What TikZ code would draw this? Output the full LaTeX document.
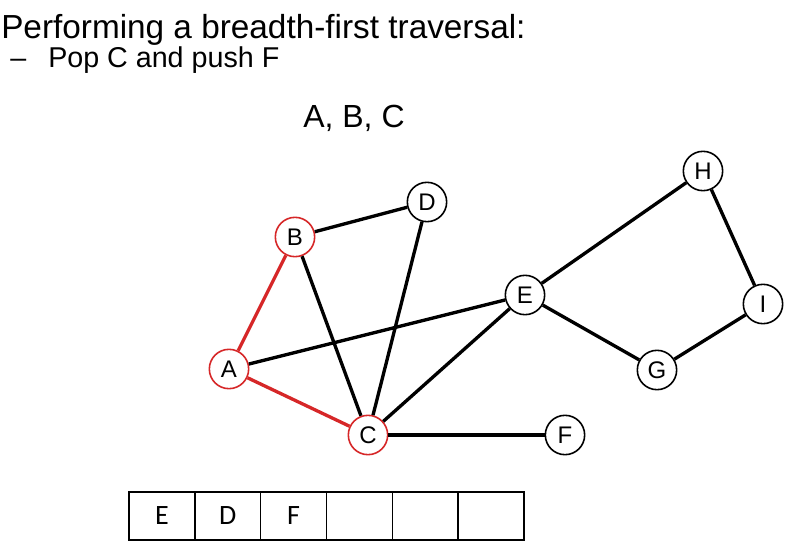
\documentclass[tikz,border=0pt]{standalone}
\usepackage{fontspec}
\setmainfont{Liberation Sans}
\newfontfamily\queuefont{Carlito}
\definecolor{visitred}{RGB}{214,39,40}
\tikzset{
  vertex/.style={circle, draw, line width=1.2pt, fill=white, minimum size=29.5pt, inner sep=0pt, font=\fontsize{18}{18}\selectfont},
  visited/.style={vertex, draw=visitred},
  edge/.style={line width=2.5pt},
  treeedge/.style={edge, draw=visitred},
  cell/.style={draw, line width=1pt, minimum width=49.4pt, minimum height=36pt, inner sep=0pt, font=\queuefont\fontsize{21}{21}\selectfont}
}

\begin{document}
\begin{tikzpicture}[x=0.75pt, y=-0.75pt]
\useasboundingbox (0,0) rectangle (797,553);
% text at the top
\node[anchor=base west, inner sep=0pt, font=\fontsize{25}{25}\selectfont] (title) at (1,38) {Performing a breadth-first traversal:};
\node[anchor=base west, inner sep=0pt, font=\fontsize{21.5}{21.5}\selectfont] (dash) at (10,67) {--};
\node[anchor=base west, inner sep=0pt, font=\fontsize{21.5}{21.5}\selectfont] (step) at (48,67) {Pop C and push F};
\node[anchor=base west, inner sep=0pt, font=\fontsize{24}{24}\selectfont] (seen) at (303,127) {A, B, C};
% vertices
\node[visited] (A) at (229,369) {A};
\node[visited] (B) at (295,237) {B};
\node[visited] (C) at (368,435) {C};
\node[vertex] (D) at (427,202) {D};
\node[vertex] (E) at (525,295) {E};
\node[vertex] (F) at (565,435) {F};
\node[vertex] (G) at (657,370) {G};
\node[vertex] (H) at (703,171) {H};
\node[vertex] (I) at (763,304) {I};
% edges
\draw[treeedge] (A) -- (B);
\draw[treeedge] (A) -- (C);
\draw[edge] (A) -- (E);
\draw[edge] (B) -- (D);
\draw[edge] (B) -- (C);
\draw[edge] (D) -- (C);
\draw[edge] (C) -- (E);
\draw[edge] (C) -- (F);
\draw[edge] (E) -- (H);
\draw[edge] (E) -- (G);
\draw[edge] (H) -- (I);
\draw[edge] (G) -- (I);
% queue
\foreach \lbl [count=\i from 0] in {E,D,F,,,} {
  \node[cell] (q\i) at (129+32.9+65.8*\i,516) {\lbl};
}
\end{tikzpicture}
\end{document}
